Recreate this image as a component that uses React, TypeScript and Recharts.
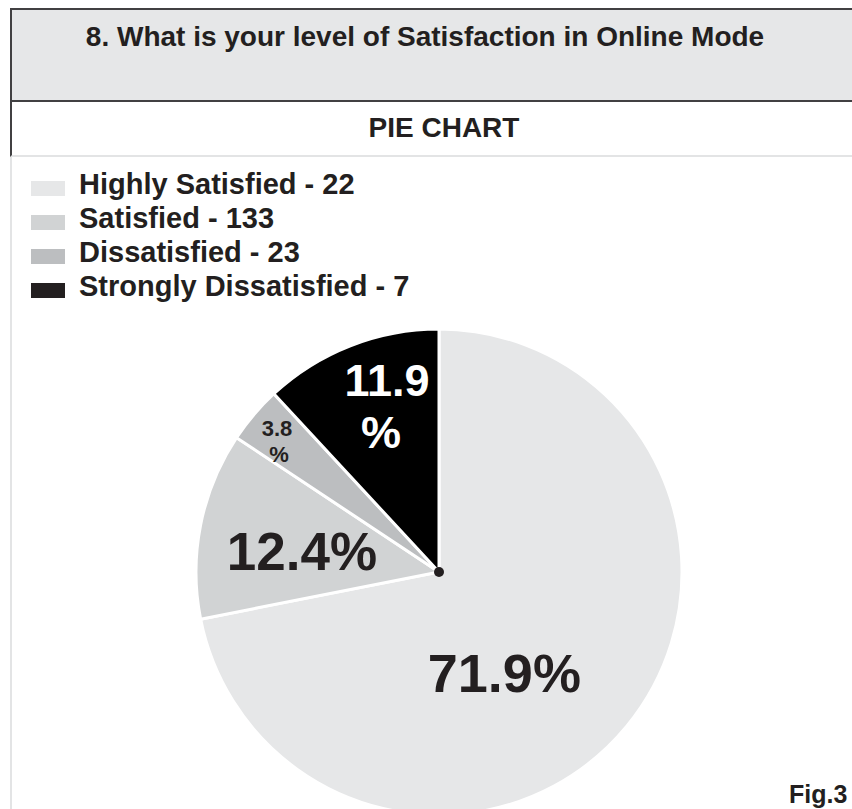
import { PieChart, Pie, Cell } from "recharts"

// survey answers (legend order)
const categories = ["Highly Satisfied", "Satisfied", "Dissatisfied", "Strongly Dissatisfied"]
const counts = [22, 133, 23, 7]
const legendColors = ["#e6e7e8", "#d1d3d4", "#bcbec0", "#231f20"]

// order the slices are drawn in, clockwise from 12 o'clock
const sliceOrder = ["Satisfied", "Dissatisfied", "Strongly Dissatisfied", "Highly Satisfied"]
const sliceColors = ["#e6e7e8", "#d1d3d4", "#bcbec0", "#000000"]

const total = counts.reduce((a, b) => a + b, 0)
const pieData = sliceOrder.map((name) => {
  const value = counts[categories.indexOf(name)]
  return { name, value, pct: ((value / total) * 100).toFixed(1) }
})

const FONT = '"Liberation Sans", Arial, Helvetica, sans-serif'
const INK = "#231f20"
const RAD = Math.PI / 180

// label placement per slice: radius fraction, angle shift, size, colour, split "%" onto 2nd line
const labelCfg = [
  { r: 0.562, shift: -22, size: 54, fill: INK, split: false, dy: 0, dx2: 0, gap: 0 },
  { r: 0.564, shift: 10.4, size: 53, fill: INK, split: false, dy: 0, dx2: 0, gap: 0 },
  { r: 0.866, shift: 0.7, size: 22, fill: INK, split: true, dy: -2, dx2: 2, gap: 26 },
  { r: 0.74, shift: -4.6, size: 45, fill: "#ffffff", split: true, dy: -4, dx2: -6, gap: 52 },
]

const renderLabel = (props: any) => {
  const { cx, cy, midAngle, outerRadius, index } = props
  const cfg = labelCfg[index]
  const a = (midAngle + cfg.shift) * RAD
  const x = cx + outerRadius * cfg.r * Math.cos(a)
  const y = cy - outerRadius * cfg.r * Math.sin(a) + cfg.dy
  const pct = pieData[index].pct
  const style = { fontFamily: FONT, fontWeight: 700, fontSize: cfg.size }
  return (
    <g>
      {cfg.split ? (
        <>
          <text x={x} y={y} textAnchor="middle" fill={cfg.fill} style={style}>
            {pct}
          </text>
          <text x={x + cfg.dx2} y={y + cfg.gap} textAnchor="middle" fill={cfg.fill} style={style}>
            %
          </text>
        </>
      ) : (
        <text x={x} y={y} textAnchor="middle" fill={cfg.fill} style={style}>
          {pct}%
        </text>
      )}
      {index === 0 && <circle cx={cx} cy={cy} r={5} fill={INK} />}
    </g>
  )
}

export default function App() {
  return (
    <div
      style={{
        position: "absolute",
        left: 0,
        top: 0,
        width: 852,
        height: 809,
        overflow: "hidden",
        background: "#ffffff",
        fontFamily: FONT,
        color: INK,
      }}
    >
      {/* question header */}
      <div
        style={{
          position: "absolute",
          left: 10,
          top: 8,
          width: 842,
          height: 90,
          background: "#e6e7e8",
          borderTop: "2px solid #414042",
          borderLeft: "2px solid #414042",
          borderBottom: "2px solid #414042",
        }}
      />
      <div
        style={{
          position: "absolute",
          left: 4,
          top: 20,
          width: 842,
          textAlign: "center",
          fontSize: 28,
          fontWeight: 700,
          lineHeight: "34px",
        }}
      >
        8. What is your level of Satisfaction in Online Mode
      </div>

      {/* sub header */}
      <div
        style={{
          position: "absolute",
          left: 10,
          top: 100,
          width: 842,
          height: 55,
          borderLeft: "2px solid #414042",
          borderBottom: "2px solid #e3e4e5",
        }}
      />
      <div
        style={{
          position: "absolute",
          left: 20,
          top: 111,
          width: 848,
          textAlign: "center",
          fontSize: 28,
          fontWeight: 700,
          lineHeight: "34px",
        }}
      >
        PIE CHART
      </div>
      <div style={{ position: "absolute", left: 10, top: 157, width: 2, height: 652, background: "#e3e4e5" }} />

      {/* legend */}
      {categories.map((c, i) => (
        <div
          key={c}
          style={{
            position: "absolute",
            left: 31,
            top: 167 + i * 34.3,
            height: 34,
            display: "flex",
            alignItems: "center",
            fontSize: 29,
            fontWeight: 700,
            whiteSpace: "nowrap",
          }}
        >
          <span style={{ display: "inline-block", width: 34, height: 15, marginTop: 8, background: legendColors[i], marginRight: 14 }} />
          {c} - {counts[i]}
        </div>
      ))}

      <div style={{ position: "absolute", left: 0, top: 0 }}>
        <PieChart width={852} height={809} margin={{ top: 0, right: 0, bottom: 0, left: 0 }}>
          <Pie
            data={pieData}
            dataKey="value"
            nameKey="name"
            cx={439}
            cy={572}
            outerRadius={243}
            startAngle={90}
            endAngle={-270}
            stroke="#ffffff"
            strokeWidth={3}
            labelLine={false}
            label={renderLabel}
            isAnimationActive={false}
          >
            {pieData.map((d, i) => (
              <Cell key={d.name} fill={sliceColors[i]} />
            ))}
          </Pie>
        </PieChart>
      </div>

      <div style={{ position: "absolute", left: 789, top: 780, fontSize: 25, fontWeight: 700, lineHeight: "28px" }}>
        Fig.3
      </div>
    </div>
  )
}
